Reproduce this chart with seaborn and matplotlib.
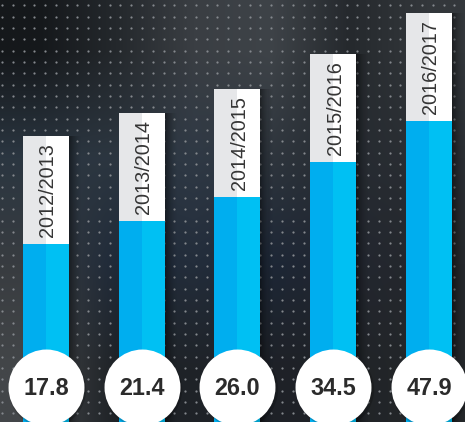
import numpy as np
import pandas as pd
import matplotlib
matplotlib.use("Agg")
import matplotlib.pyplot as plt
import seaborn as sns
from matplotlib.colors import to_rgb
from matplotlib.transforms import blended_transform_factory

# Season and measured value per season
periods = ["2012/2013", "2013/2014", "2014/2015", "2015/2016", "2016/2017"]
values = [17.8, 21.4, 26.0, 34.5, 47.9]

sns.set_theme(style="white")
plt.rcParams["font.family"] = ["Liberation Sans", "DejaVu Sans"]

W, H = 465, 422
fig = plt.figure(figsize=(W / 100, H / 100), dpi=100)

# ---- dark backdrop with a dotted grid ----
bg_ax = fig.add_axes([0, 0, 1, 1], zorder=0)
bg_ax.set_axis_off()
bg_rows = [
    ["#15181b", "#24282c", "#3a3e43", "#3e4348", "#25292d", "#33373b"],
    ["#2b3641", "#2c3640", "#2f3945", "#2e353d", "#262b31", "#2a2e33"],
    ["#383c40", "#1f2a39", "#232d3b", "#1d2736", "#222630", "#25282c"],
    ["#434649", "#1e2226", "#1f2328", "#1e2127", "#202327", "#24272a"],
]
bg = np.array([[to_rgb(c) for c in row] for row in bg_rows])
bg_ax.imshow(bg, extent=(0, 1, 0, 1), aspect="auto",
             interpolation="bilinear", origin="upper")
dx_dots = np.arange(2.0, W, 10.77)
dy_dots = np.arange(5.3, H, 11.33)
DX, DY = np.meshgrid(dx_dots, dy_dots)
bg_ax.scatter(DX.ravel() / W, 1 - DY.ravel() / H, s=2.6, color="#83878c",
              linewidths=0, transform=bg_ax.transAxes)
bg_ax.set_xlim(0, 1)
bg_ax.set_ylim(0, 1)

# ---- bars on a log value axis ----
ax = fig.add_axes([0, 0, 1, 1], zorder=1)
ax.patch.set_alpha(0)

df = pd.DataFrame({"period": periods, "value": values})
bar_w = 0.48
cap = 2.376          # label box spans a fixed ratio above each value
vals = np.array(values)
pos = np.arange(len(periods))

# soft shadow to the right of every column
n_sh = 12
for j in range(n_sh):
    ax.bar(pos + bar_w / 2 + j * 0.0105, vals * cap, width=0.0105,
           align="edge", color="black", alpha=0.42 * (1 - j / n_sh) ** 1.6,
           linewidth=0, zorder=2)

sns.barplot(data=df, x="period", y="value", color="#00c0f3", saturation=1,
            width=bar_w, errorbar=None, linewidth=0, ax=ax, zorder=3)
ax.bar(pos - bar_w / 2, vals, width=bar_w / 2, align="edge",
       color="#00aeef", linewidth=0, zorder=3.1)

# label boxes sitting on top of the blue columns
ax.bar(pos, vals * (cap - 1), bottom=vals, width=bar_w, color="white",
       linewidth=0, zorder=3)
ax.bar(pos - bar_w / 2, vals * (cap - 1), bottom=vals, width=bar_w / 2,
       align="edge", color="#e6e7e9", linewidth=0, zorder=3.1)

ax.set_yscale("log")
ax.set_xlim(-0.480, 4.376)
ax.set_ylim(4.28, 126.0)
ax.set_axis_off()

for i, (p, v) in enumerate(zip(periods, vals)):
    ax.text(i, v * np.sqrt(cap), p, rotation=90, rotation_mode="anchor",
            ha="center", va="center_baseline",
            fontsize=14.3, color="#353535", zorder=4)

# value badges along the bottom edge
trans = blended_transform_factory(ax.transData, ax.transAxes)
ax.scatter(pos + 0.015, [0.078] * len(pos), s=3100, color="black", alpha=0.18,
           linewidths=0, transform=trans, zorder=4.5, clip_on=False)
ax.scatter(pos, [0.083] * len(pos), s=2990, color="white", linewidths=0,
           transform=trans, zorder=5, clip_on=False)
for i, v in enumerate(vals):
    ax.text(i, 0.080, f"{v:.1f}", transform=trans, ha="center",
            va="center", fontsize=16.8, fontweight="bold", color="#2b2b2b",
            zorder=6)

fig.savefig("out.png", dpi=100)
